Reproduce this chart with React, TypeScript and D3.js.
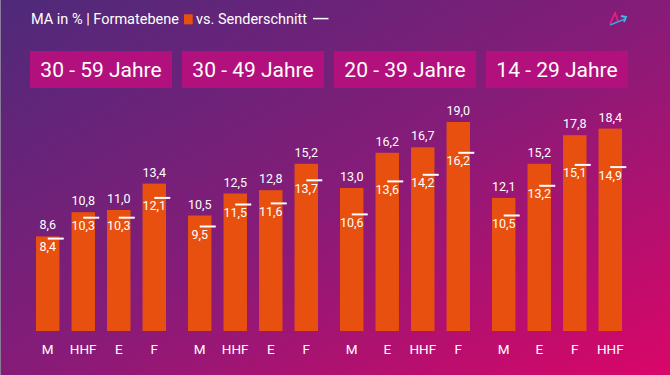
import React from "react";
import * as d3 from "d3";

const groups = ["30 - 59 Jahre", "30 - 49 Jahre", "20 - 39 Jahre", "14 - 29 Jahre"];
const categories = [
  ["M", "HHF", "E", "F"],
  ["M", "HHF", "E", "F"],
  ["M", "E", "HHF", "F"],
  ["M", "E", "F", "HHF"],
];
const formatValues = [
  [8.6, 10.8, 11.0, 13.4],
  [10.5, 12.5, 12.8, 15.2],
  [13.0, 16.2, 16.7, 19.0],
  [12.1, 15.2, 17.8, 18.4],
];
const senderAverage = [
  [8.4, 10.3, 10.3, 12.1],
  [9.5, 11.5, 11.6, 13.7],
  [10.6, 13.6, 14.2, 16.2],
  [10.5, 13.2, 15.1, 14.9],
];

const W = 670;
const H = 375;
const FONT = "Roboto, 'Noto Sans', sans-serif";
const BAR = "#E8500F";
const BOX = "#B2117D";

const fmt = (v: number) => d3.format(".1f")(v).replace(".", ",");

export default function App() {
  const x0 = d3.scaleBand<number>().domain(d3.range(groups.length)).range([25, 633]).padding(0);
  const x1 = d3.scaleBand<number>().domain(d3.range(4)).range([-65, 65]).paddingInner(0.34).paddingOuter(0);
  const y = d3.scaleLinear().domain([0, 20]).range([331, 111]);
  const bw = x1.bandwidth();

  return (
    <div style={{ position: "absolute", left: 0, top: 0 }}>
      <svg width={W} height={H} style={{ display: "block" }}>
        <defs>
          <linearGradient id="bg" x1="0" y1="0" x2="1" y2="1">
            <stop offset="0%" stopColor="#4E2A7A" />
            <stop offset="50%" stopColor="#851C78" />
            <stop offset="100%" stopColor="#DA0668" />
          </linearGradient>
        </defs>
        <rect x={0} y={0} width={W} height={H} fill="url(#bg)" />
        <line x1={0.5} y1={0} x2={0.5} y2={H} stroke="#8a7a95" strokeWidth={1} />

        {/* Title */}
        <text x={31} y={23.7} fill="#fff" fontFamily={FONT} fontSize={14.5}>
          MA in % | Formatebene
        </text>
        <rect x={184} y={14.3} width={8.7} height={10} fill={BAR} />
        <text x={196} y={23.7} fill="#fff" fontFamily={FONT} fontSize={14.5}>
          vs. Senderschnitt
        </text>
        <line x1={313} x2={328.5} y1={18.6} y2={18.6} stroke="#fff" strokeWidth={1.5} />

        {/* Logo */}
        <g transform="translate(609,12)">
          <path d="M1,12 L6,1 L9,9" fill="none" stroke="#E8207A" strokeWidth={1.8} />
          <path d="M1,13 L16,7" fill="none" stroke="#3AA0E0" strokeWidth={1.8} />
          <path d="M12,4 L17,5 L15,10" fill="none" stroke="#3AC0E8" strokeWidth={1.8} />
        </g>

        {groups.map((g, gi) => {
          const cx = (x0(gi) as number) + x0.bandwidth() / 2;
          return (
            <g key={g}>
              <rect x={cx - 71} y={51} width={142} height={37} fill={BOX} />
              <text
                x={cx}
                y={77}
                textAnchor="middle"
                fill="#fff"
                fontFamily={FONT}
                fontSize={21}
              >
                {g}
              </text>
              {formatValues[gi].map((v, i) => {
                const bx = cx + (x1(i) as number);
                const bc = bx + bw / 2;
                const ay = y(senderAverage[gi][i]);
                return (
                  <g key={i}>
                    <rect x={bx} y={y(v)} width={bw} height={y(0) - y(v)} fill={BAR} />
                    <text
                      x={bc}
                      y={y(v) - 7}
                      textAnchor="middle"
                      fill="#fff"
                      fontFamily={FONT}
                      fontSize={12.5}
                    >
                      {fmt(v)}
                    </text>
                    <line x1={bc} x2={bc + 16} y1={ay} y2={ay} stroke="#fff" strokeWidth={2} />
                    <text
                      x={bc}
                      y={ay + 12.5}
                      textAnchor="middle"
                      fill="#fff"
                      fontFamily={FONT}
                      fontSize={12.5}
                    >
                      {fmt(senderAverage[gi][i])}
                    </text>
                    <text
                      x={bc}
                      y={354}
                      textAnchor="middle"
                      fill="#fff"
                      fontFamily={FONT}
                      fontSize={13.5}
                    >
                      {categories[gi][i]}
                    </text>
                  </g>
                );
              })}
            </g>
          );
        })}
      </svg>
    </div>
  );
}
